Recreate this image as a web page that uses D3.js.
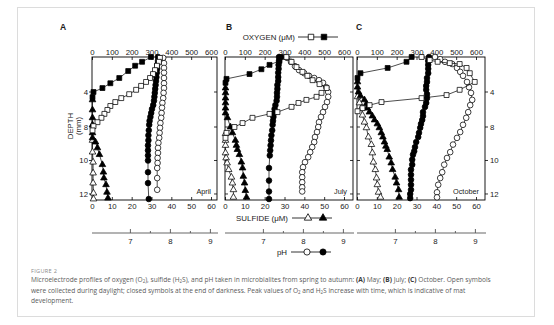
<!DOCTYPE html>
<html>
<head>
<meta charset="utf-8">
<script src="https://cdn.jsdelivr.net/npm/d3@7"></script>
<style>
  body { margin: 0; background: #fff; }
  svg { display: block; }
  .ax { font-family: "Liberation Sans", Arial, sans-serif; fill: #1a1a1a; }
  .cap { font-family: "Open Sans", "Noto Sans", sans-serif; }
</style>
</head>
<body>
<svg id="fig" width="554" height="325"></svg>
<script>
// ---------- data ----------
const months = ["April", "July", "October"];
const panelLetters = ["A", "B", "C"];
const oxygenTicks = [0, 100, 200, 300, 400, 500, 600];
const sulfideTicks = [0, 10, 20, 30, 40, 50, 60];
const phTicks = [7, 8, 9];
const phMinorTicks = [7.5, 8.5];
const depthTicks = [4, 8, 10, 12];

// profiles: [depth (mm), value]; O2 and H2S in µM
const aprilO2Day = [[0.1,340],[0.55,335],[1.0,325],[1.5,315],[1.95,305],[2.4,290],[2.85,270],[3.3,245],[3.75,220],[4.25,185],[4.7,145],[5.15,115],[5.6,90],[6.05,75],[6.5,60],[6.95,45],[7.45,25],[7.9,5],[8.2,0]];
const aprilO2Night = [[0,295],[0.55,250],[1.0,215],[1.6,180],[2.4,135],[3.0,90],[3.55,50],[4.0,5],[4.6,0]];
const aprilH2SDay = [[8.8,0],[9.5,0],[10.1,0.3],[10.75,0.3],[11.35,0.3],[11.95,0.5],[12.3,0.5]];
const aprilH2SNight = [[4.9,0],[6.05,0],[6.95,0],[7.75,0],[8.35,0],[8.65,0],[8.9,1.5],[9.25,2.5],[9.65,3.5],[10.25,5],[10.7,5.5],[11.05,5.75],[11.45,6.8],[11.9,7.3],[12.25,7.8]];
const aprilPhDay = [[0.1,7.82],[0.7,7.84],[1.25,7.84],[1.8,7.84],[2.4,7.84],[3.0,7.84],[3.55,7.84],[4.1,7.83],[4.7,7.82],[5.25,7.8],[5.8,7.79],[6.4,7.78],[6.95,7.77],[7.55,7.75],[8.05,7.74],[8.35,7.73],[8.65,7.72],[8.95,7.7],[9.25,7.69],[9.55,7.69],[9.85,7.68],[10.15,7.68],[10.45,7.67],[11.05,7.67],[11.75,7.67]];
const aprilPhNight = [[0,7.69],[0.45,7.69],[0.9,7.67],[1.35,7.67],[1.8,7.66],[2.3,7.65],[2.75,7.64],[3.2,7.63],[3.65,7.62],[4.1,7.61],[4.55,7.6],[5.0,7.59],[5.5,7.57],[5.95,7.54],[6.4,7.52],[6.85,7.5],[7.3,7.48],[7.75,7.47],[8.2,7.46],[8.5,7.45],[8.8,7.45],[9.1,7.44],[9.4,7.44],[9.7,7.44],[10.0,7.44],[10.7,7.44],[11.35,7.44],[12.3,7.46]];

const julyO2Day = [[0,307],[0.55,333],[1.15,358],[1.7,388],[2.15,413],[2.65,439],[3.1,474],[3.55,510],[4.1,484],[4.55,459],[4.9,408],[5.25,368],[5.7,333],[6.3,262],[6.5,222],[6.95,136],[7.55,86],[8.0,45],[8.35,5],[8.65,0]];
const julyO2Night = [[0,280],[0.45,272],[0.9,222],[1.4,181],[1.95,121],[2.5,5],[2.95,0]];
const julyH2SDay = [[8.4,0],[8.8,0],[9.1,0],[9.55,0],[9.85,0.3],[10.15,0.8],[10.55,1.6],[11.0,3],[11.35,3.5],[11.75,4],[12.2,4]];
const julyH2SNight = [[3.55,0],[4.1,0],[4.7,0],[5.25,0],[5.85,0],[6.4,0],[6.95,1],[8.0,2.5],[8.35,3.5],[8.8,5],[9.1,5.5],[9.35,6],[9.65,7],[10.1,8],[10.45,8.6],[10.95,9],[11.35,9.6],[11.8,10],[12.2,10.6]];
const julyPhDay = [[0.1,7.59],[0.55,7.69],[1.05,7.79],[1.5,7.89],[1.85,8.02],[2.15,8.14],[2.4,8.27],[2.65,8.39],[2.95,8.49],[3.45,8.57],[4.0,8.62],[4.55,8.62],[5.15,8.59],[5.7,8.54],[6.3,8.49],[6.85,8.44],[7.45,8.39],[8.0,8.37],[8.3,8.34],[8.6,8.29],[8.9,8.27],[9.2,8.22],[9.5,8.17],[9.8,8.12],[10.1,8.04],[10.4,7.99],[10.7,7.97],[11.0,7.97],[11.3,7.97],[11.6,7.97],[11.85,7.97]];
const julyPhNight = [[0,7.39],[0.45,7.39],[0.9,7.38],[1.35,7.38],[1.8,7.37],[2.3,7.37],[2.75,7.37],[3.2,7.35],[3.65,7.35],[4.1,7.34],[4.55,7.34],[5.0,7.33],[5.5,7.3],[5.95,7.28],[6.4,7.27],[6.85,7.25],[7.3,7.24],[7.75,7.23],[8.2,7.22],[8.5,7.2],[8.8,7.19],[9.1,7.18],[9.4,7.17],[9.7,7.16],[10.45,7.14],[11.2,7.14],[11.85,7.14],[12.3,7.14]];

const octoberO2Day = [[0,323],[0.35,364],[0.55,404],[0.7,465],[0.8,515],[1.25,550],[1.85,566],[2.85,591],[3.75,515],[4.35,449],[4.7,323],[5.15,121],[5.5,61],[5.85,25],[6.2,0]];
const octoberO2Night = [[0,273],[0.55,247],[1.25,152],[1.85,15],[2.4,0]];
const octoberH2SDay = [[4.55,0],[5.25,1],[5.85,2],[6.65,2.5],[7.45,3.5],[8.05,4.5],[8.6,5.5],[9.05,7],[9.55,7.5],[10.1,8],[10.55,9],[11.05,9.6],[11.45,10],[11.9,10.6],[12.2,11.6]];
const octoberH2SNight = [[2.85,0],[3.45,0],[4.0,0.5],[4.45,1.5],[4.9,3.5],[5.35,4.5],[5.85,5],[6.3,6],[6.75,7.5],[7.2,8.6],[7.65,10],[8.05,11],[8.35,12],[8.6,12.8],[8.9,13.6],[9.15,14.3],[9.35,15],[9.8,16],[10.15,17],[10.55,17.7],[11.0,19],[11.35,19.7],[11.75,20.7],[12.2,21]];
const octoberPhDay = [[0,7.99],[0.25,8.12],[0.55,8.24],[0.8,8.42],[1.25,8.54],[1.7,8.62],[2.15,8.69],[2.85,8.79],[3.45,8.84],[4.1,8.89],[4.9,8.92],[5.5,8.87],[6.3,8.82],[6.95,8.77],[7.75,8.69],[8.3,8.62],[8.65,8.54],[9.05,8.44],[9.5,8.37],[9.85,8.29],[10.25,8.22],[10.7,8.17],[11.05,8.12],[11.45,8.07],[11.9,8.04],[12.2,8.04]];
const octoberPhNight = [[0,7.84],[0.45,7.82],[0.9,7.82],[1.35,7.82],[1.85,7.82],[2.4,7.79],[2.85,7.79],[3.3,7.77],[3.75,7.77],[4.25,7.79],[4.7,7.79],[5.25,7.77],[5.7,7.74],[6.3,7.69],[6.75,7.69],[7.2,7.67],[7.65,7.64],[8.05,7.62],[8.35,7.59],[8.6,7.57],[8.9,7.52],[9.2,7.49],[9.45,7.47],[9.65,7.44],[9.95,7.42],[10.25,7.42],[10.55,7.39],[10.85,7.39],[11.15,7.39],[11.45,7.39],[11.75,7.39],[12.0,7.37],[12.25,7.37]];

// ---------- layout ----------
const svg = d3.select("#fig");
const plotTop = 57, plotBottom = 200;
const panelEdges = [[92, 217], [225, 353], [357, 485]];
const letterX = [60, 226, 356];
const phAxisY = 233;

// depth axis is stretched below 8 mm
const yDepth = d3.scaleLinear().domain([0, 8, 12.36]).range([plotTop, 127, plotBottom]);

const profiles = [
  { o2Day: aprilO2Day, o2Night: aprilO2Night, h2sDay: aprilH2SDay, h2sNight: aprilH2SNight, phDay: aprilPhDay, phNight: aprilPhNight },
  { o2Day: julyO2Day, o2Night: julyO2Night, h2sDay: julyH2SDay, h2sNight: julyH2SNight, phDay: julyPhDay, phNight: julyPhNight },
  { o2Day: octoberO2Day, o2Night: octoberO2Night, h2sDay: octoberH2SDay, h2sNight: octoberH2SNight, phDay: octoberPhDay, phNight: octoberPhNight }
];

// card
svg.append("rect").attr("x", 17.5).attr("y", 7.5).attr("width", 517).attr("height", 309)
  .attr("fill", "#fff").attr("stroke", "#dcdcdc").attr("stroke-width", 1);

const symSquare = d3.symbol().type(d3.symbolSquare).size(24)();
const symTri = d3.symbol().type(d3.symbolTriangle).size(19)();
const symCircle = d3.symbol().type(d3.symbolCircle).size(25)();

function drawSeries(g, data, xs, path, filled) {
  const line = d3.line().x(d => xs(d[1])).y(d => yDepth(d[0]));
  g.append("path").datum(data).attr("d", line)
    .attr("fill", "none").attr("stroke", "#000").attr("stroke-width", 0.7);
  g.selectAll(null).data(data).enter().append("path")
    .attr("d", path)
    .attr("transform", d => `translate(${xs(d[1])},${yDepth(d[0])})`)
    .attr("fill", filled ? "#000" : "#fff")
    .attr("stroke", "#000").attr("stroke-width", 0.75);
}

panelEdges.forEach(([x0, x1], i) => {
  const g = svg.append("g");
  const xO2 = d3.scaleLinear().domain([0, 600]).range([x0 + 0.5, x0 + 119.5]);
  const xS = d3.scaleLinear().domain([0, 60]).range([x0 + 0.5, x0 + 119.5]);
  const xPh = d3.scaleLinear().domain([6.04, 9.04]).range([x0, x0 + 120]);

  // frame
  g.append("rect").attr("x", x0).attr("y", plotTop).attr("width", x1 - x0).attr("height", plotBottom - plotTop)
    .attr("fill", "none").attr("stroke", "#000").attr("stroke-width", 0.9);

  // top axis: oxygen
  oxygenTicks.forEach(t => {
    g.append("line").attr("x1", xO2(t)).attr("x2", xO2(t)).attr("y1", plotTop).attr("y2", plotTop + 3)
      .attr("stroke", "#000").attr("stroke-width", 0.8);
    g.append("text").attr("class", "ax").attr("x", xO2(t)).attr("y", 55).attr("text-anchor", "middle")
      .attr("font-size", 7.8).text(t);
  });
  // bottom axis: sulfide
  sulfideTicks.forEach(t => {
    g.append("line").attr("x1", xS(t)).attr("x2", xS(t)).attr("y1", plotBottom).attr("y2", plotBottom - 3)
      .attr("stroke", "#000").attr("stroke-width", 0.8);
    g.append("text").attr("class", "ax").attr("x", xS(t)).attr("y", 209).attr("text-anchor", "middle")
      .attr("font-size", 7.8).text(t);
  });
  // depth ticks on both sides
  depthTicks.forEach(t => {
    const y = yDepth(t);
    const leftOut = i === 0, rightOut = i === 2;
    g.append("line").attr("x1", leftOut ? x0 - 3 : x0).attr("x2", leftOut ? x0 : x0 + 3)
      .attr("y1", y).attr("y2", y).attr("stroke", "#000").attr("stroke-width", 0.8);
    g.append("line").attr("x1", rightOut ? x1 : x1 - 3).attr("x2", rightOut ? x1 + 3 : x1)
      .attr("y1", y).attr("y2", y).attr("stroke", "#000").attr("stroke-width", 0.8);
    if (leftOut) {
      g.append("text").attr("class", "ax").attr("x", x0 - 4).attr("y", y + 2.8).attr("text-anchor", "end")
        .attr("font-size", 7.8).text(t);
    }
    if (rightOut) {
      g.append("text").attr("class", "ax").attr("x", x1 + 5).attr("y", y + 2.8).attr("text-anchor", "start")
        .attr("font-size", 7.8).text(t);
    }
  });

  // pH axis below the panel
  g.append("line").attr("x1", x0).attr("x2", x1 + 1).attr("y1", phAxisY).attr("y2", phAxisY)
    .attr("stroke", "#9a9a9a").attr("stroke-width", 1.6);
  phTicks.forEach(t => {
    g.append("line").attr("x1", xPh(t)).attr("x2", xPh(t)).attr("y1", phAxisY - 4).attr("y2", phAxisY)
      .attr("stroke", "#555").attr("stroke-width", 0.9);
    g.append("text").attr("class", "ax").attr("x", xPh(t)).attr("y", 244).attr("text-anchor", "middle")
      .attr("font-size", 7.8).text(t);
  });
  phMinorTicks.forEach(t => {
    g.append("line").attr("x1", xPh(t)).attr("x2", xPh(t)).attr("y1", phAxisY - 2).attr("y2", phAxisY)
      .attr("stroke", "#555").attr("stroke-width", 0.9);
  });

  // month and panel letter
  g.append("text").attr("class", "ax").attr("x", x1 - 6).attr("y", 194).attr("text-anchor", "end")
    .attr("font-size", 7.3).text(months[i]);
  g.append("text").attr("class", "ax").attr("x", letterX[i]).attr("y", 30)
    .attr("font-size", 8.5).attr("font-weight", "bold").text(panelLetters[i]);

  const p = profiles[i];
  drawSeries(g, p.phDay, xPh, symCircle, false);
  drawSeries(g, p.phNight, xPh, symCircle, true);
  drawSeries(g, p.h2sDay, xS, symTri, false);
  drawSeries(g, p.h2sNight, xS, symTri, true);
  drawSeries(g, p.o2Day, xO2, symSquare, false);
  drawSeries(g, p.o2Night, xO2, symSquare, true);
});

// depth axis title
const depthTitle = svg.append("g").attr("class", "ax").attr("font-size", 7.8);
depthTitle.append("text").attr("transform", "translate(73,126) rotate(-90)").attr("text-anchor", "middle").text("DEPTH");
depthTitle.append("text").attr("transform", "translate(81,126) rotate(-90)").attr("text-anchor", "middle").text("(mm)");

// legends
function legend(label, labelEndX, y, x1, x2, mOpen, mFilled, sym) {
  svg.append("text").attr("class", "ax").attr("x", labelEndX).attr("y", y + 2.8).attr("text-anchor", "end")
    .attr("font-size", 7.9).text(label);
  svg.append("line").attr("x1", x1).attr("x2", x2).attr("y1", y).attr("y2", y)
    .attr("stroke", "#000").attr("stroke-width", 0.8);
  [[mOpen, false], [mFilled, true]].forEach(([mx, f]) => {
    svg.append("path").attr("d", sym).attr("transform", `translate(${mx},${y})`)
      .attr("fill", f ? "#000" : "#fff").attr("stroke", "#000").attr("stroke-width", 0.8);
  });
}
legend("OXYGEN (\u03bcM)", 295, 37, 298, 338, 311, 324, d3.symbol().type(d3.symbolSquare).size(30)());
legend("SULFIDE (\u03bcM)", 288, 218, 292, 332, 308, 323, d3.symbol().type(d3.symbolTriangle).size(24)());
legend("pH", 287, 252, 291, 331, 307, 323, d3.symbol().type(d3.symbolCircle).size(30)());

// caption
const cap = svg.append("g").attr("class", "cap");
cap.append("text").attr("x", 31).attr("y", 272.5).attr("font-size", 5.6).attr("fill", "#8a8a8a")
  .attr("letter-spacing", 0.3).text("FIGURE 2");

function capLine(y, parts) {
  const t = cap.append("text").attr("x", 31).attr("y", y).attr("font-size", 6.6).attr("fill", "#5a5a5a");
  parts.forEach(p => {
    if (typeof p === "string") t.append("tspan").text(p);
    else if (p.b) t.append("tspan").attr("font-weight", "bold").attr("fill", "#3a3a3a").text(p.b);
    else if (p.sub) t.append("tspan").attr("font-size", 4.4).attr("baseline-shift", "-20%").text(p.sub);
  });
}
capLine(282, ["Microelectrode profiles of oxygen (O", {sub: "2"}, "), sulfide (H", {sub: "2"}, "S), and pH taken in microbialites from spring to autumn: ",
  {b: "(A)"}, " May; ", {b: "(B)"}, " July; ", {b: "(C)"}, " October. Open symbols"]);
capLine(292.5, ["were collected during daylight; closed symbols at the end of darkness. Peak values of O", {sub: "2"}, " and H", {sub: "2"},
  "S increase with time, which is indicative of mat"]);
capLine(303, ["development."]);
</script>
</body>
</html>
